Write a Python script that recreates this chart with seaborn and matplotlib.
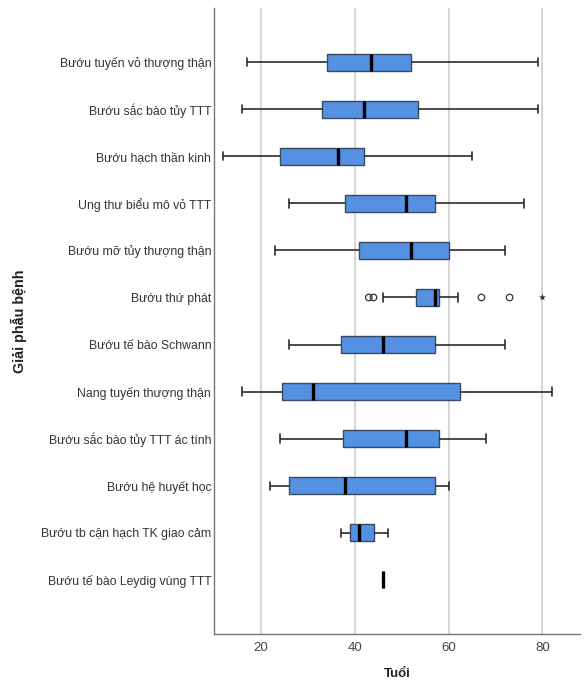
import numpy as np
import pandas as pd
import matplotlib
matplotlib.use("Agg")
import matplotlib.pyplot as plt
import seaborn as sns

# Groups (top to bottom) and five-number summaries
groups = [
    "Bướu tuyến vỏ thượng thận",
    "Bướu sắc bào tủy TTT",
    "Bướu hạch thần kinh",
    "Ung thư biểu mô vỏ TTT",
    "Bướu mỡ tủy thượng thận",
    "Bướu thứ phát",
    "Bướu tế bào Schwann",
    "Nang tuyến thượng thận",
    "Bướu sắc bào tủy TTT ác tính",
    "Bướu hệ huyết học",
    "Bướu tb cận hạch TK giao cảm",
    "Bướu tế bào Leydig vùng TTT",
]
whisker_low = [17, 16, 12, 26, 23, 46, 26, 16, 24, 22, 37, 46]
q1 = [34, 33, 24, 38, 41, 53, 37, 24.5, 37.5, 26, 39, 46]
median = [43.5, 42, 36.5, 51, 52, 57, 46, 31, 51, 38, 41, 46]
q3 = [52, 53.5, 42, 57, 60, 58, 57, 62.5, 58, 57, 44, 46]
whisker_high = [79, 79, 65, 76, 72, 62, 72, 82, 68, 60, 47, 46]

# Outliers of "Bướu thứ phát"
outlier_group = "Bướu thứ phát"
outliers = [43, 44, 67, 73]
extremes = [80]

rows = []
for g, a, b, c, d, e in zip(groups, whisker_low, q1, median, q3, whisker_high):
    for v in (a, b, c, d, e):
        rows.append({"group": g, "age": v})
df = pd.DataFrame(rows)
df_out = pd.DataFrame({"group": [outlier_group] * len(outliers), "age": outliers})
df_ext = pd.DataFrame({"group": [outlier_group] * len(extremes), "age": extremes})

sns.set_style("white")
plt.rcParams["font.family"] = ["Liberation Sans", "DejaVu Sans"]

fig = plt.figure(figsize=(5.87, 6.94), dpi=100)
ax = fig.add_axes([214 / 587, 60 / 694, 366 / 587, 626 / 694])

for x in [20, 40, 60, 80]:
    ax.axvline(x, color="#cfcfcf", linewidth=1.2, zorder=0)

sns.boxplot(
    data=df, x="age", y="group", order=groups, orient="h",
    whis=(0, 100), width=0.36, color="#5491e2", saturation=1,
    linecolor="#2b2b2b", linewidth=1.2, showfliers=False, ax=ax,
    medianprops={"color": "black", "linewidth": 2.4},
    boxprops={"edgecolor": "#3a4a60", "linewidth": 1.0},
)
sns.scatterplot(
    data=df_out, x="age", y="group", marker="o", s=22,
    facecolor="none", edgecolor="#333333", linewidth=0.9, ax=ax, zorder=5,
)
sns.scatterplot(
    data=df_ext, x="age", y="group", marker="*", s=28,
    color="#333333", linewidth=0, ax=ax, zorder=5,
)

ax.set_xlim(10, 88)
ax.set_ylim(len(groups) - 1 + 1.15, -1.15)
ax.set_xticks([20, 40, 60, 80])
ax.tick_params(axis="both", length=0, labelsize=8.85, colors="#333333", pad=2)
ax.tick_params(axis="x", pad=6, labelsize=9.5, labelcolor="#444444")
ax.set_xlabel("Tuổi", fontsize=9.5, fontweight="bold", labelpad=10, color="#222222")
ax.set_ylabel("Giải phẫu bệnh", fontsize=10.3, fontweight="bold", color="#222222")
ax.yaxis.set_label_coords((27 - 214) / 366, 0.5)

for side in ["top", "right"]:
    ax.spines[side].set_visible(False)
for side in ["left", "bottom"]:
    ax.spines[side].set_color("#777777")
    ax.spines[side].set_linewidth(1.0)

fig.savefig("out.png", dpi=100)
